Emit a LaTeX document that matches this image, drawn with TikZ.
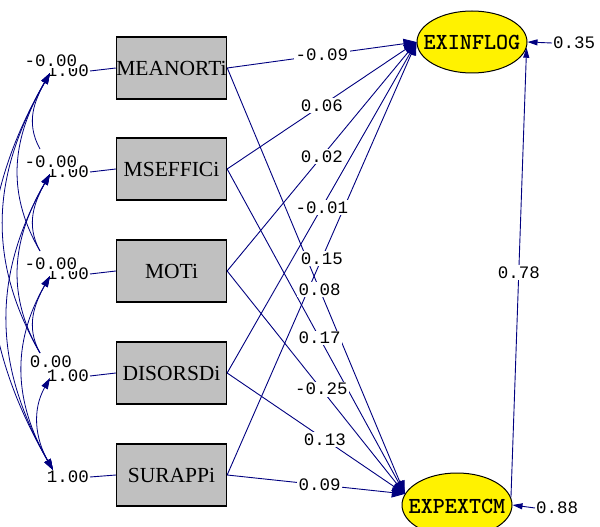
\documentclass[tikz,border=0pt]{standalone}
\usepackage{fontspec}
\newfontfamily\numfont{Liberation Mono}
\newfontfamily\boxfont{Liberation Serif}
\usetikzlibrary{arrows.meta,shapes.geometric}
\definecolor{pathblue}{RGB}{0,0,128}
\definecolor{boxgray}{RGB}{192,192,192}

\begin{document}
\begin{tikzpicture}[x=1pt,y=-1pt,
  obs/.style={draw=black, line width=1.3pt, fill=boxgray, minimum width=110pt,
    minimum height=62pt, inner sep=0pt, font=\boxfont\fontsize{21.5}{21.5}\selectfont},
  lat/.style={ellipse, draw=black, line width=1pt, fill=yellow,
    minimum width=110pt, minimum height=62pt, inner sep=0pt},
  lattext/.style={font=\ttfamily\bfseries\fontsize{23}{23}\selectfont, inner sep=0pt},
  num/.style={font=\numfont\fontsize{17.5}{17.5}\selectfont, inner sep=1pt},
  lbl/.style={num, fill=white, inner sep=1.5pt},
  reg/.style={draw=pathblue, line width=0.9pt, -{Triangle[length=13pt,width=10pt]}},
  err/.style={draw=pathblue, line width=0.9pt, -{Triangle[length=10pt,width=6pt]}},
  stub/.style={draw=pathblue, line width=0.9pt},
  cov/.style={draw=pathblue, line width=0.8pt, {Triangle[length=11pt,width=7pt]}-},
  covb/.style={draw=pathblue, line width=0.8pt, {Triangle[length=11pt,width=7pt]}-{Triangle[length=11pt,width=7pt]}}
]
\useasboundingbox (0,0) rectangle (600,527);
\fill[white] (0,0) rectangle (600,527);

% observed exogenous variables
\node[obs] (b1) at (171.5,68)  {MEANORTi};
\node[obs] (b2) at (171.5,169) {MSEFFICi};
\node[obs] (b3) at (171.5,271) {MOTi};
\node[obs] (b4) at (171.5,373) {DISORSDi};
\node[obs] (b5) at (171.5,475) {SURAPPi};

% latent variables
\node[lat] (e1) at (472,42)  {};
\node[lattext] (e1t) at (e1) {EXINFLOG};
\node[lat, minimum height=64pt] (e2) at (457,505) {};
\node[lattext] (e2t) at (457,506) {EXPEXTCM};

% variances of the exogenous variables
\foreach \i/\y in {1/71,2/172,3/274,4/376,5/477}{
  \node[num, anchor=east] (v\i) at (90,\y) {1.00};
  \draw[stub] (v\i.east) -- (b\i.west);
}

% covariance end points
\coordinate (q1) at (50,73);
\coordinate (q2) at (50,174);
\coordinate (q3) at (50,276);
\coordinate (q4) at (50,378);
\coordinate (q5) at (53,470);
\coordinate (a2) at (40,149);
\coordinate (a3) at (40,251);
\coordinate (a4) at (40,353);

% covariances
\draw[cov]  (q1) .. controls +(-15,27)  and +(-15,-27)  .. (a2);
\draw[cov]  (q1) .. controls +(-36,62)  and +(-36,-62)  .. (a3);
\draw[cov]  (q1) .. controls +(-56,98)  and +(-56,-98)  .. (a4);
\draw[covb] (q1) .. controls +(-80,139) and +(-80,-139) .. (q5);
\draw[cov]  (q2) .. controls +(-15,27)  and +(-15,-27)  .. (a3);
\draw[cov]  (q2) .. controls +(-36,62)  and +(-36,-62)  .. (a4);
\draw[covb] (q2) .. controls +(-59,104) and +(-59,-104) .. (q5);
\draw[cov]  (q3) .. controls +(-15,27)  and +(-15,-27)  .. (a4);
\draw[covb] (q3) .. controls +(-39,68)  and +(-39,-68)  .. (q5);
\draw[covb] (q4) .. controls +(-18,32)  and +(-18,-32)  .. (q5);

\node[lbl] (c1) at (51,61)  {-0.00};
\node[lbl] (c2) at (51,162) {-0.00};
\node[lbl] (c3) at (51,264) {-0.00};
\node[lbl] (c4) at (51,362) {0.00};

% structural paths
\draw[reg] (b1.east) -- (e1.west);
\draw[reg] (b2.east) -- (e1.west);
\draw[reg] (b3.east) -- (e1.west);
\draw[reg] (b4.east) -- (e1.west);
\draw[reg] (b5.east) -- (e1.west);
\draw[reg] (b1.east) -- (e2.168);
\draw[reg] (b2.east) -- (e2.168);
\draw[reg] (b3.east) -- (e2.168);
\draw[reg] (b4.east) -- (e2.168);
\draw[reg] (b5.east) -- (e2.168);
\draw[err] (e2.8) -- (e1.-6);

% path coefficients
\path (b1.east) -- node[lbl, pos=0.5]  {-0.09} (e1.west);
\path (b2.east) -- node[lbl, pos=0.5]  {0.06}  (e1.west);
\path (b3.east) -- node[lbl, pos=0.5]  {0.02}  (e1.west);
\path (b4.east) -- node[lbl, pos=0.5]  {-0.01} (e1.west);
\path (b5.east) -- node[lbl, pos=0.5]  {0.15}  (e1.west);
\path (b1.east) -- node[lbl, pos=0.52] {0.08}  (e2.168);
\path (b2.east) -- node[lbl, pos=0.52] {0.17}  (e2.168);
\path (b3.east) -- node[lbl, pos=0.53] {-0.25} (e2.168);
\path (b4.east) -- node[lbl, pos=0.55] {0.13}  (e2.168);
\path (b5.east) -- node[lbl, pos=0.52] {0.09}  (e2.168);
\path (e2.8) -- node[lbl, pos=0.5] {0.78} (e1.-6);

% residual variances
\node[num, anchor=west] (r1) at (552,43) {0.35};
\draw[err] (r1.west) -- (e1.east);
\node[num, anchor=west] (r2) at (535,508) {0.88};
\draw[err] (r2.west) -- (e2.east);
\end{tikzpicture}
\end{document}
